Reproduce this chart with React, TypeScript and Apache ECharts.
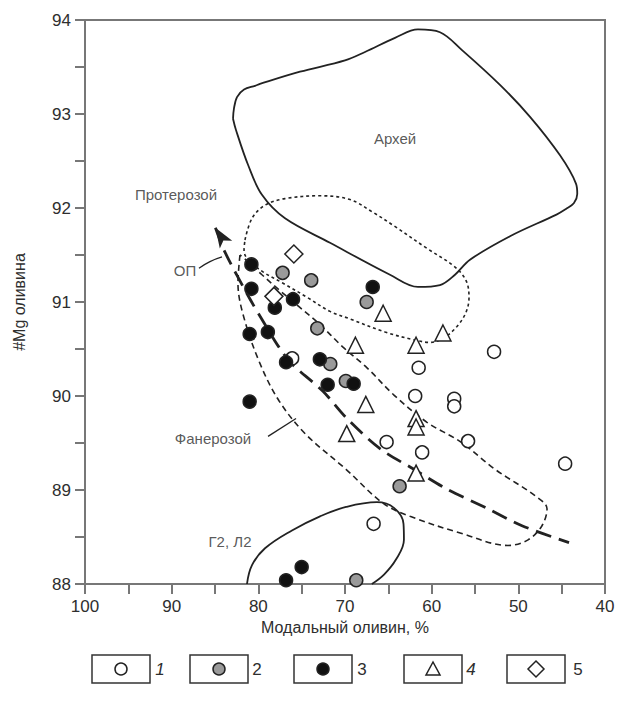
import React, { useEffect, useRef } from "react";
import * as echarts from "echarts";

// Modal olivine (%) vs #Mg of olivine, by sample group
const group1Open = [
  [76.1, 90.4], [52.8, 90.47], [61.5, 90.3], [61.9, 90.0], [57.4, 89.97], [57.4, 89.89],
  [65.2, 89.51], [55.8, 89.52], [61.1, 89.4], [44.6, 89.28], [66.7, 88.64],
];
const group2Gray = [
  [77.2, 91.31], [73.9, 91.23], [67.5, 91.0], [73.2, 90.72], [71.7, 90.34], [69.9, 90.16],
  [63.7, 89.04], [68.7, 88.04],
];
const group3Black = [
  [80.8, 91.4], [80.8, 91.14], [66.8, 91.16], [76.0, 91.03], [78.1, 90.94], [81.0, 90.66],
  [78.9, 90.68], [76.8, 90.36], [72.9, 90.39], [72.0, 90.12], [69.0, 90.13], [81.0, 89.94],
  [75.0, 88.18], [76.8, 88.04],
];
const group4Triangle = [
  [65.6, 90.88], [58.7, 90.67], [61.8, 90.54], [68.8, 90.54], [67.6, 89.91], [61.8, 89.76],
  [61.8, 89.67], [69.8, 89.6], [61.8, 89.18],
];
const group5Diamond = [[75.9, 91.51], [78.2, 91.06]];

// Fields of mantle xenoliths by age
const archeanField = [
  [82.92, 92.95], [82.81, 93.06], [82.46, 93.18], [81.65, 93.26], [80.38, 93.3], [79.81, 93.32],
  [75.19, 93.45], [70.0, 93.57], [67.69, 93.66], [64.23, 93.81], [61.58, 93.9], [59.04, 93.87],
  [56.5, 93.68], [52.12, 93.31], [48.65, 92.97], [45.19, 92.56], [43.35, 92.26], [43.2, 92.15],
  [43.6, 92.05], [44.5, 91.99], [45.6, 91.93], [50.96, 91.7], [55.58, 91.45], [57.31, 91.29],
  [59.04, 91.18], [61.58, 91.16], [64.81, 91.29], [71.73, 91.63], [76.92, 91.89], [79.58, 92.14],
  [81.19, 92.46], [82.58, 92.83], [82.92, 92.95],
];
const proterozoicField = [
  [81.54, 91.66], [80.73, 91.89], [79.23, 92.03], [76.92, 92.1], [72.88, 92.13], [69.42, 92.09],
  [66.88, 91.96], [64.35, 91.81], [60.54, 91.57], [57.42, 91.38], [56.04, 91.23], [55.69, 91.05],
  [56.04, 90.89], [57.08, 90.74], [58.58, 90.62], [60.19, 90.57], [62.15, 90.6], [65.38, 90.68],
  [69.42, 90.82], [71.73, 90.9], [74.38, 91.05], [77.15, 91.2], [79.46, 91.32], [81.19, 91.45],
  [81.65, 91.55], [81.54, 91.66],
];
const phanerozoicField = [
  [82.12, 91.5], [82.35, 91.2], [81.77, 90.87], [79.92, 90.37], [77.62, 89.95], [74.5, 89.59],
  [69.88, 89.22], [65.62, 88.86], [62.5, 88.72], [56.62, 88.54], [51.19, 88.41], [48.88, 88.47],
  [47.27, 88.62], [46.69, 88.8], [48.08, 88.94], [52.69, 89.22], [56.62, 89.51], [60.54, 89.72],
  [64.35, 90.01], [67.46, 90.3], [70.23, 90.52], [73.0, 90.77], [75.31, 90.95], [77.62, 91.13],
  [79.58, 91.29], [81.19, 91.43], [82.12, 91.5],
];
const g2l2Field = [
  [81.31, 88.0], [80.73, 88.2], [79.23, 88.38], [76.12, 88.57], [72.88, 88.72], [69.88, 88.82],
  [66.31, 88.87], [64.35, 88.81], [63.25, 88.64], [63.2, 88.47], [64.12, 88.26], [65.5, 88.1],
  [66.9, 88.0],
];
// Depletion trend (ОП), arrow at its high-Mg end
const depletionTrend = [
  [84.95, 91.79], [83.85, 91.53], [81.08, 91.05], [79.23, 90.76], [77.62, 90.52], [76.12, 90.34],
  [72.54, 90.05], [69.88, 89.77], [65.96, 89.44], [62.04, 89.22], [58.23, 89.01], [53.5, 88.8],
  [49.58, 88.62], [44.15, 88.44],
];
const opLeader = [[86.85, 91.36], [85.58, 91.43], [84.19, 91.48]];
const phanLeader = [[78.88, 89.57], [75.65, 89.76]];

const fieldLabels = [
  { name: "Архей", value: [64.23, 92.74] },
  { name: "Протерозой", value: [89.5, 92.14] },
  { name: "ОП", value: [88.46, 91.34] },
  { name: "Фанерозой", value: [85.23, 89.55] },
  { name: "Г2, Л2", value: [83.27, 88.45] },
];

const legendKeys = ["1", "2", "3", "4", "5"];

const INK = "#222";
const TEXT = "#2e2e2e";
const FONT = "'Liberation Sans', Arial, sans-serif";

function outline(data: number[][], type: any, width: number, smooth: number) {
  return {
    type: "line",
    data,
    smooth,
    showSymbol: false,
    symbol: "none",
    silent: true,
    z: 2,
    lineStyle: { color: INK, width, type },
  };
}

function markers(data: number[][], symbol: string, size: number, fill: string) {
  return {
    type: "scatter",
    data,
    symbol,
    symbolSize: size,
    z: 5,
    itemStyle: { color: fill, borderColor: INK, borderWidth: 1.5, opacity: 1 },
  };
}

function legendGraphic() {
  const boxes = [
    { x: 92, label: 160, italic: true },
    { x: 190, label: 257, italic: false },
    { x: 294, label: 362, italic: false },
    { x: 404, label: 471, italic: true },
    { x: 507, label: 578, italic: false },
  ];
  const top = 655;
  const h = 28;
  const w = 58;
  const cy = top + h / 2;
  const els: any[] = [];
  boxes.forEach((b, i) => {
    const cx = b.x + w / 2;
    els.push({
      type: "rect",
      shape: { x: b.x, y: top, width: w, height: h },
      style: { fill: "#fff", stroke: "#333", lineWidth: 1.5 },
    });
    if (i === 0) {
      els.push({ type: "circle", shape: { cx, cy, r: 6 }, style: { fill: "#fff", stroke: INK, lineWidth: 1.5 } });
    } else if (i === 1) {
      els.push({ type: "circle", shape: { cx, cy, r: 6 }, style: { fill: "#9a9a9a", stroke: INK, lineWidth: 1.5 } });
    } else if (i === 2) {
      els.push({ type: "circle", shape: { cx, cy, r: 6 }, style: { fill: "#111", stroke: INK, lineWidth: 1.5 } });
    } else if (i === 3) {
      els.push({
        type: "polygon",
        shape: { points: [[cx, cy - 7], [cx - 7, cy + 6], [cx + 7, cy + 6]] },
        style: { fill: "#fff", stroke: INK, lineWidth: 1.5 },
      });
    } else {
      els.push({
        type: "polygon",
        shape: { points: [[cx, cy - 8], [cx + 8, cy], [cx, cy + 8], [cx - 8, cy]] },
        style: { fill: "#fff", stroke: INK, lineWidth: 1.5 },
      });
    }
    els.push({
      type: "text",
      x: b.label,
      y: cy,
      style: {
        text: legendKeys[i],
        fill: TEXT,
        font: `${b.italic ? "italic " : ""}17px ${FONT}`,
        textAlign: "center",
        textVerticalAlign: "middle",
      },
    });
  });
  return els;
}

export default function App() {
  const ref = useRef<HTMLDivElement>(null);

  useEffect(() => {
    if (!ref.current) return;
    const chart = echarts.init(ref.current, undefined, { renderer: "svg" });
    const axisLine = { show: true, lineStyle: { color: "#777", width: 2 } };
    chart.setOption({
      animation: false,
      backgroundColor: "#fff",
      textStyle: { fontFamily: FONT },
      grid: {
        left: 85,
        right: 14,
        top: 20,
        bottom: 118,
        show: true,
        borderColor: "#777",
        borderWidth: 2,
        backgroundColor: "transparent",
      },
      xAxis: {
        type: "value",
        min: 40,
        max: 100,
        interval: 5,
        inverse: true,
        name: "Модальный оливин, %",
        nameLocation: "middle",
        nameGap: 25,
        nameTextStyle: { color: TEXT, fontSize: 16, fontFamily: FONT },
        axisLine,
        axisTick: { show: true, inside: false, length: 10, lineStyle: { color: "#777", width: 2 } },
        axisLabel: {
          color: TEXT,
          fontSize: 17,
          margin: 14,
          formatter: (v: number) => (v % 10 === 0 ? String(v) : ""),
        },
        splitLine: { show: false },
      },
      yAxis: {
        type: "value",
        min: 88,
        max: 94,
        interval: 0.5,
        name: "#Mg оливина",
        nameLocation: "middle",
        nameGap: 58,
        nameRotate: 90,
        nameTextStyle: { color: TEXT, fontSize: 16, fontFamily: FONT },
        axisLine,
        axisTick: { show: true, inside: false, length: 10, lineStyle: { color: "#777", width: 2 } },
        axisLabel: {
          color: TEXT,
          fontSize: 17,
          margin: 14,
          formatter: (v: number) => (Math.abs(v - Math.round(v)) < 1e-6 ? String(Math.round(v)) : ""),
        },
        splitLine: { show: false },
      },
      series: [
        outline(archeanField, "solid", 1.8, 0.35),
        outline(proterozoicField, [3, 3], 1.6, 0.35),
        outline(phanerozoicField, [6, 4], 1.6, 0.35),
        outline(g2l2Field, "solid", 1.8, 0.4),
        outline(opLeader, "solid", 1.3, 0.5),
        outline(phanLeader, "solid", 1.3, 0),
        {
          type: "line",
          data: depletionTrend.map((p, i) =>
            i === 0
              ? { value: p, symbol: "arrow", symbolSize: [11, 20], symbolRotate: 32, itemStyle: { color: INK } }
              : { value: p, symbol: "none" }
          ),
          smooth: 0.3,
          showSymbol: true,
          silent: true,
          z: 3,
          lineStyle: { color: INK, width: 2.8, type: [16, 8] },
          itemStyle: { color: INK },
        },
        markers(group1Open, "circle", 13, "#fff"),
        markers(group2Gray, "circle", 13, "#9a9a9a"),
        markers(group3Black, "circle", 13, "#111"),
        markers(group4Triangle, "triangle", 16, "#fff"),
        markers(group5Diamond, "diamond", 18, "#fff"),
        {
          type: "scatter",
          data: fieldLabels,
          symbolSize: 0,
          silent: true,
          z: 6,
          label: {
            show: true,
            position: "inside",
            formatter: (p: any) => p.name,
            color: TEXT,
            fontSize: 15,
            fontFamily: FONT,
          },
        },
      ],
      graphic: legendGraphic(),
    });
    return () => chart.dispose();
  }, []);

  return (
    <div
      ref={ref}
      style={{ position: "fixed", left: 0, top: 0, width: 619, height: 702, background: "#fff" }}
    />
  );
}
